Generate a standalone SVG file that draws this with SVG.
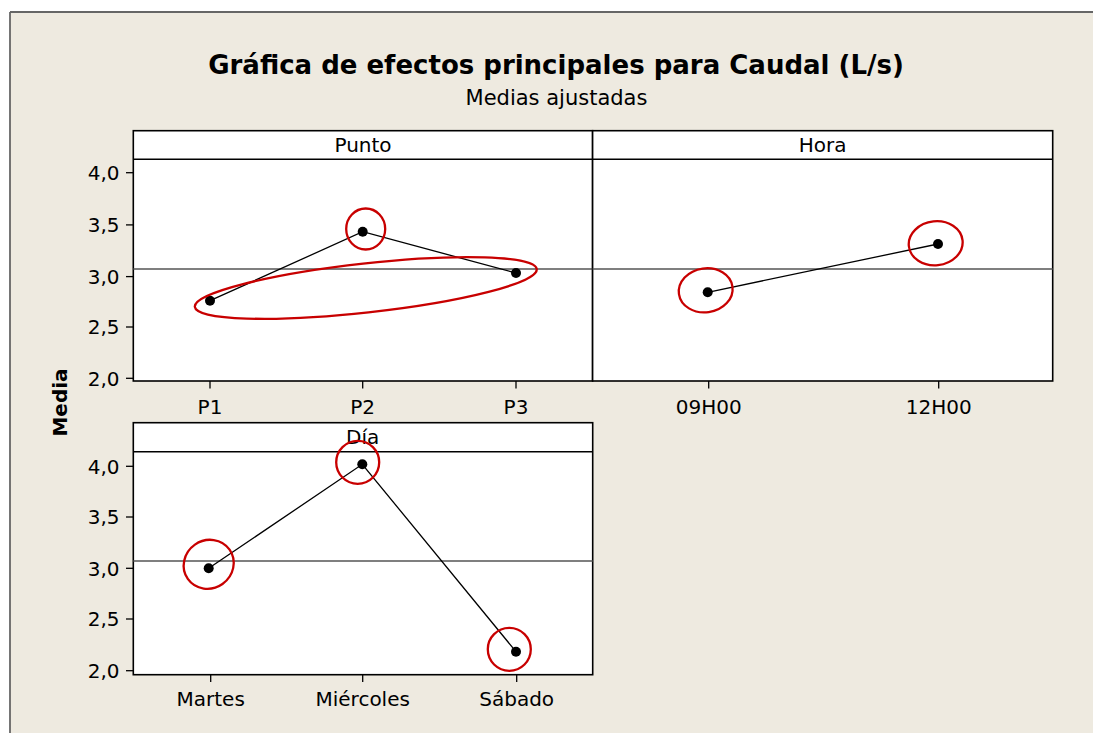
<svg xmlns="http://www.w3.org/2000/svg" width="1093" height="733" viewBox="0 0 1093 733">
<style>
text{font-family:"DejaVu Sans","Liberation Sans",sans-serif;fill:#000}
.title{font-size:26px;font-weight:bold}
.sub{font-size:21px}
.lab{font-size:20px}
.ylab{font-size:20px;text-anchor:end}
.xlab{font-size:20px;text-anchor:middle}
.hdr{font-size:20px;text-anchor:middle}
.panel{fill:#fff;stroke:#000;stroke-width:1.6}
.hline{stroke:#000;stroke-width:1.4}
.ref{stroke:#555;stroke-width:1.3}
.tick{stroke:#000;stroke-width:1.3}
.data{stroke:#000;stroke-width:1.3;fill:none}
.pt{fill:#000}
.mark{fill:none;stroke:#c80000;stroke-width:2.3}
</style>
<rect x="0" y="0" width="1093" height="733" fill="#fff"/>
<rect x="10" y="12" width="1083" height="721" fill="#EEEAE0"/>
<line x1="10" y1="12" x2="1093" y2="12" stroke="#666" stroke-width="1.8"/>
<line x1="10" y1="12" x2="10" y2="733" stroke="#666" stroke-width="1.8"/>

<g id="title">
<text class="title" x="556" y="73.5" text-anchor="middle">Gráfica de efectos principales para Caudal (L/s)</text>
<text class="sub" x="556.5" y="105" text-anchor="middle">Medias ajustadas</text>
</g>

<g id="ylabel">
<text class="lab" font-weight="bold" font-size="21" transform="translate(67 402.5) rotate(-90)" text-anchor="middle">Media</text>
</g>

<g id="panel-punto">
<rect class="panel" x="133.3" y="130.7" width="459.3" height="250.3"/>
<line class="hline" x1="133.3" y1="159.3" x2="592.6" y2="159.3"/>
<text class="hdr" x="363" y="152.3">Punto</text>
<line class="ref" x1="133.3" y1="269" x2="592.6" y2="269"/>
<g class="tick">
<line x1="126" y1="172.7" x2="133.3" y2="172.7"/>
<line x1="126" y1="224.9" x2="133.3" y2="224.9"/>
<line x1="126" y1="276.6" x2="133.3" y2="276.6"/>
<line x1="126" y1="327" x2="133.3" y2="327"/>
<line x1="126" y1="378.3" x2="133.3" y2="378.3"/>
<line x1="210" y1="381" x2="210" y2="388.5"/>
<line x1="362.7" y1="381" x2="362.7" y2="388.5"/>
<line x1="516" y1="381" x2="516" y2="388.5"/>
</g>
<text class="ylab" x="119.5" y="180">4,0</text>
<text class="ylab" x="119.5" y="232.2">3,5</text>
<text class="ylab" x="119.5" y="283.9">3,0</text>
<text class="ylab" x="119.5" y="334.3">2,5</text>
<text class="ylab" x="119.5" y="385.6">2,0</text>
<text class="xlab" x="210" y="414.3">P1</text>
<text class="xlab" x="362.7" y="414.3">P2</text>
<text class="xlab" x="516" y="414.3">P3</text>
</g>

<g id="panel-hora">
<rect class="panel" x="592.6" y="130.7" width="460.1" height="250.3"/>
<line class="hline" x1="592.6" y1="159.3" x2="1052.7" y2="159.3"/>
<text class="hdr" x="822.7" y="152.3">Hora</text>
<line class="ref" x1="592.6" y1="269" x2="1052.7" y2="269"/>
<g class="tick">
<line x1="708.7" y1="381" x2="708.7" y2="388.5"/>
<line x1="938.7" y1="381" x2="938.7" y2="388.5"/>
</g>
<text class="xlab" x="708.7" y="414.3">09H00</text>
<text class="xlab" x="938.7" y="414.3">12H00</text>
</g>

<g id="panel-dia">
<rect class="panel" x="133.3" y="422.7" width="459.4" height="252"/>
<line class="hline" x1="133.3" y1="451.7" x2="592.7" y2="451.7"/>
<text class="hdr" x="362.7" y="444.3">Día</text>
<line class="ref" x1="133.3" y1="561" x2="592.7" y2="561"/>
<g class="tick">
<line x1="126" y1="466.3" x2="133.3" y2="466.3"/>
<line x1="126" y1="517" x2="133.3" y2="517"/>
<line x1="126" y1="568.3" x2="133.3" y2="568.3"/>
<line x1="126" y1="619" x2="133.3" y2="619"/>
<line x1="126" y1="670.7" x2="133.3" y2="670.7"/>
<line x1="210.7" y1="674.7" x2="210.7" y2="682"/>
<line x1="362.7" y1="674.7" x2="362.7" y2="682"/>
<line x1="516.7" y1="674.7" x2="516.7" y2="682"/>
</g>
<text class="ylab" x="119.5" y="473.6">4,0</text>
<text class="ylab" x="119.5" y="524.3">3,5</text>
<text class="ylab" x="119.5" y="575.6">3,0</text>
<text class="ylab" x="119.5" y="626.3">2,5</text>
<text class="ylab" x="119.5" y="678">2,0</text>
<text class="xlab" x="210.7" y="706">Martes</text>
<text class="xlab" x="362.7" y="706">Miércoles</text>
<text class="xlab" x="516.7" y="706">Sábado</text>
</g>

<g id="connectors">
<polyline class="data" points="210,300.7 362.7,231.7 516,273"/>
<polyline class="data" points="707.7,292.3 938,244"/>
<polyline class="data" points="208.7,568.3 362.3,464.3 516,651.7"/>
</g>

<g id="points">
<circle class="pt" cx="210" cy="300.7" r="5"/>
<circle class="pt" cx="362.7" cy="231.7" r="5"/>
<circle class="pt" cx="516" cy="273" r="5"/>
<circle class="pt" cx="707.7" cy="292.3" r="5"/>
<circle class="pt" cx="938" cy="244" r="5"/>
<circle class="pt" cx="208.7" cy="568.3" r="5"/>
<circle class="pt" cx="362.3" cy="464.3" r="5"/>
<circle class="pt" cx="516" cy="651.7" r="5"/>
</g>

<g id="highlights">
<ellipse class="mark" cx="365.7" cy="229" rx="19.5" ry="20.5"/>
<ellipse class="mark" cx="365.8" cy="288" rx="172" ry="24.5" transform="rotate(-6.3 365.8 288)"/>
<ellipse class="mark" cx="705.7" cy="290.3" rx="27" ry="22" transform="rotate(-8 705.7 290.3)"/>
<ellipse class="mark" cx="935.7" cy="243.3" rx="27" ry="22" transform="rotate(-6 935.7 243.3)"/>
<ellipse class="mark" cx="208.7" cy="564.3" rx="25.5" ry="24" transform="rotate(-35 208.7 564.3)"/>
<ellipse class="mark" cx="357.7" cy="462.3" rx="21.5" ry="21.5"/>
<ellipse class="mark" cx="509.3" cy="649.3" rx="21.5" ry="21.5"/>
</g>
</svg>
